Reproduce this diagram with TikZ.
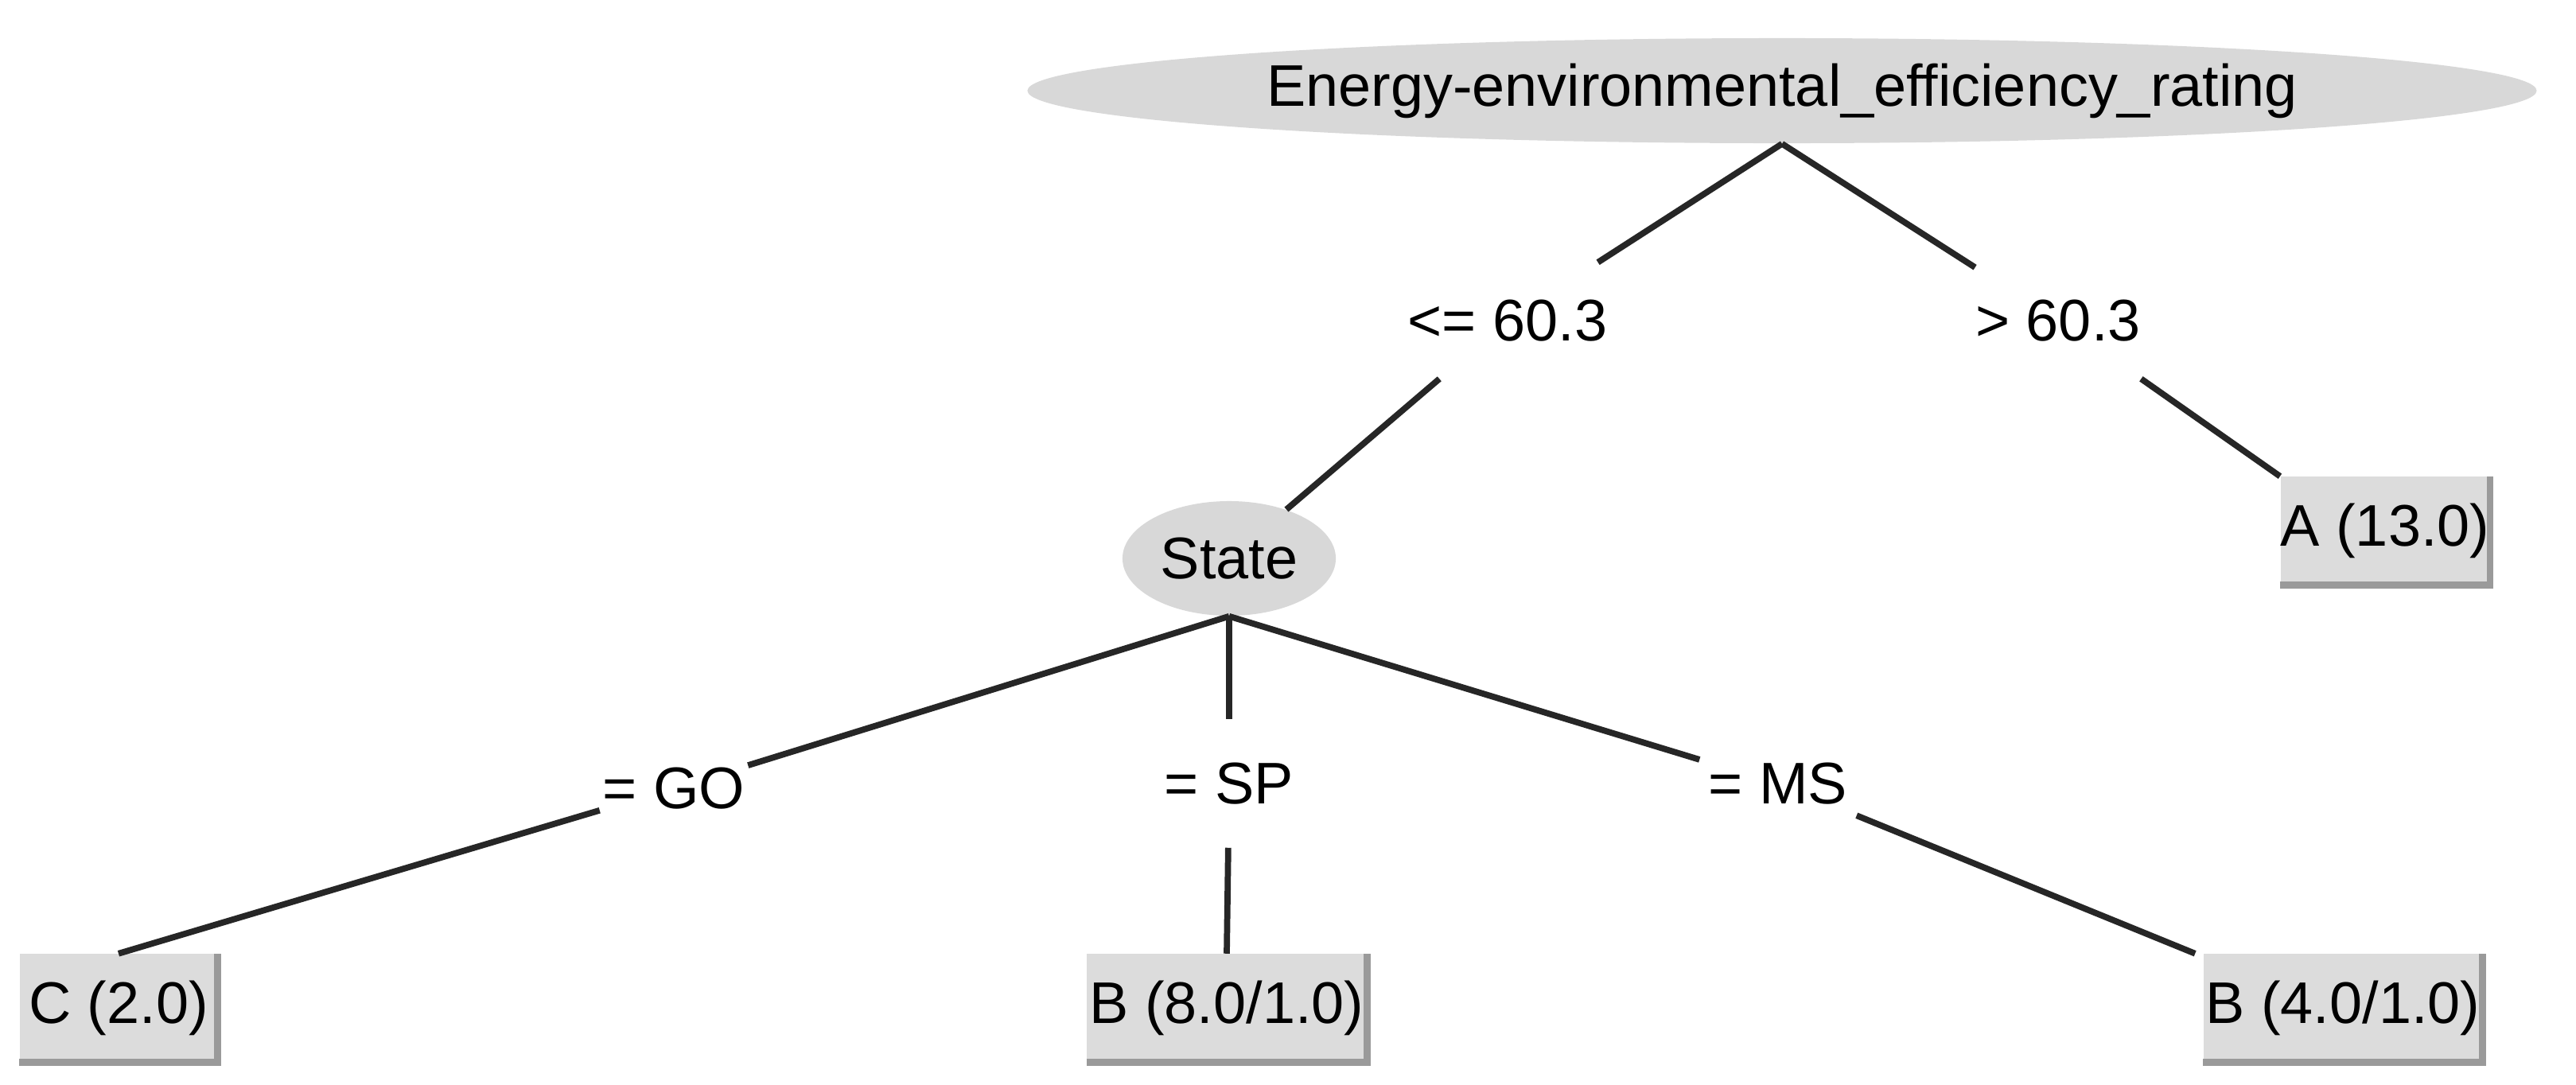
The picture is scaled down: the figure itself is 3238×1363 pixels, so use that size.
\documentclass[tikz,border=0pt]{standalone}
\usepackage{fontspec}
\setmainfont{Liberation Sans}
\usetikzlibrary{shapes.geometric}
\definecolor{boxfill}{HTML}{DCDCDC}
\definecolor{ellfill}{HTML}{D8D8D8}
\definecolor{edgegray}{HTML}{9A9A9A}
\tikzset{
  ell/.style={ellipse,fill=ellfill,inner sep=0pt,font=\fontsize{21}{25}\selectfont},
  leaf/.style={rectangle,fill=boxfill,inner sep=0pt,minimum height=1.35cm,font=\fontsize{21}{25}\selectfont},
  lab/.style={rectangle,inner sep=0pt,font=\fontsize{21}{25}\selectfont},
  edge/.style={line width=2.2pt,black!85},
  rim/.style={line width=2.5pt,edgegray}
}
\begin{document}
\begin{tikzpicture}[x=0.01cm,y=-0.01cm]
\useasboundingbox (0,0) rectangle (3238,1363);
\node[ell,minimum width=18.96cm,minimum height=1.32cm] (root) at (2240,114) {Energy-environmental\_efficiency\_rating};
\node[ell,minimum width=2.68cm,minimum height=1.44cm] (state) at (1545,702) {State};
\node[lab,minimum width=1.96cm,minimum height=1.45cm] (l1) at (1895,403) {<= 60.3};
\node[lab,minimum width=1.96cm,minimum height=1.45cm] (l2) at (2587,403) {> 60.3};
\node[lab,minimum width=1.85cm,minimum height=0.85cm] (lgo) at (847,991) {= GO};
\node[lab,minimum width=1.6cm,minimum height=1.6cm] (lsp) at (1545,985) {= SP};
\node[lab,minimum width=1.96cm,minimum height=0.8cm] (lms) at (2235,985) {= MS};
\node[leaf,minimum width=1.65cm] (A) at (2998,667) {A (13.0)};
\node[leaf,minimum width=2.48cm] (C) at (149,1267) {C (2.0)};
\node[leaf,minimum width=3.51cm] (B1) at (1542,1267) {B (8.0/1.0)};
\node[leaf,minimum width=3.50cm] (B2) at (2945,1267) {B (4.0/1.0)};
\foreach \n in {A,C,B1,B2}{
  \draw[rim] (\n.south west) -- (\n.south east) -- (\n.north east);
}
\draw[edge] (root.south) -- (l1);
\draw[edge] (l1) -- (state);
\draw[edge] (root.south) -- (l2);
\draw[edge] (l2) -- (A.north west);
\draw[edge] (state.south) -- (lgo);
\draw[edge] (lgo) -- (C.north);
\draw[edge] (state.south) -- (lsp);
\draw[edge] (lsp) -- (B1.north);
\draw[edge] (state.south) -- (lms);
\draw[edge] (lms) -- ([xshift=-0.1cm]B2.north west);
\end{tikzpicture}
\end{document}
